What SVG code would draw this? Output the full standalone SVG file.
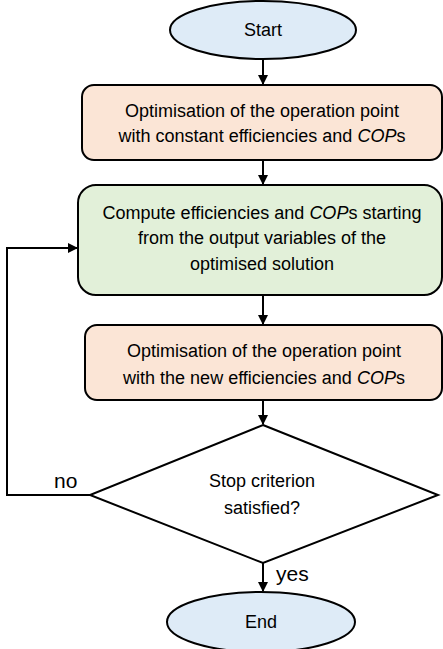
<svg xmlns="http://www.w3.org/2000/svg" width="443" height="649" viewBox="0 0 443 649">
<style>
.t{font-family:"Liberation Sans","Open Sans",sans-serif;font-size:18px;fill:#000;text-anchor:middle}
.l{font-family:"Liberation Sans","Open Sans",sans-serif;font-size:21px;fill:#000}
.s{stroke:#000;stroke-width:2}
.c{fill:none;stroke:#000;stroke-width:2}
</style>
<defs>
<marker id="ah" markerWidth="10" markerHeight="10" refX="9" refY="5" orient="auto" markerUnits="userSpaceOnUse">
<path d="M0,0 L10,5 L0,10 Z" fill="#000"/>
</marker>
</defs>
<rect width="443" height="649" fill="#fff"/>
<g id="connectors">
<line class="c" x1="263" y1="60" x2="263" y2="84" marker-end="url(#ah)"/>
<line class="c" x1="263" y1="160" x2="263" y2="184" marker-end="url(#ah)"/>
<line class="c" x1="263" y1="295" x2="263" y2="324" marker-end="url(#ah)"/>
<line class="c" x1="263" y1="400" x2="263" y2="424" marker-end="url(#ah)"/>
<line class="c" x1="263" y1="563" x2="263" y2="591" marker-end="url(#ah)"/>
<polyline class="c" points="90,495 7,495 7,248 77,248" marker-end="url(#ah)"/>
<text class="l" x="54" y="488">no</text>
<text class="l" x="276" y="581">yes</text>
</g>
<g id="start">
<ellipse class="s" cx="263" cy="30" rx="93" ry="29" fill="#DEEBF7"/>
<text class="t" x="263" y="36">Start</text>
</g>
<g id="opt1">
<rect class="s" x="82" y="85" width="360" height="75" rx="12" fill="#FBE5D6"/>
<text class="t" x="262" y="117">Optimisation of the operation point</text>
<text class="t" x="262" y="142">with constant efficiencies and <tspan font-style="italic">COP</tspan>s</text>
</g>
<g id="compute">
<rect class="s" x="78" y="185" width="364" height="110" rx="18" fill="#E2F0D9"/>
<text class="t" x="262" y="219">Compute efficiencies and <tspan font-style="italic">COP</tspan>s starting</text>
<text class="t" x="262" y="244">from the output variables of the</text>
<text class="t" x="262" y="270">optimised solution</text>
</g>
<g id="opt2">
<rect class="s" x="85" y="325" width="357" height="75" rx="12" fill="#FBE5D6"/>
<text class="t" x="264" y="357">Optimisation of the operation point</text>
<text class="t" x="264" y="384">with the new efficiencies and <tspan font-style="italic">COP</tspan>s</text>
</g>
<g id="decision">
<polygon class="s" points="263,425 438,495 263,563 90,495" fill="#fff"/>
<text class="t" x="262" y="487">Stop criterion</text>
<text class="t" x="262" y="514">satisfied?</text>
</g>
<g id="end">
<ellipse class="s" cx="261" cy="622" rx="94" ry="30" fill="#DEEBF7"/>
<text class="t" x="261" y="628">End</text>
</g>
</svg>
